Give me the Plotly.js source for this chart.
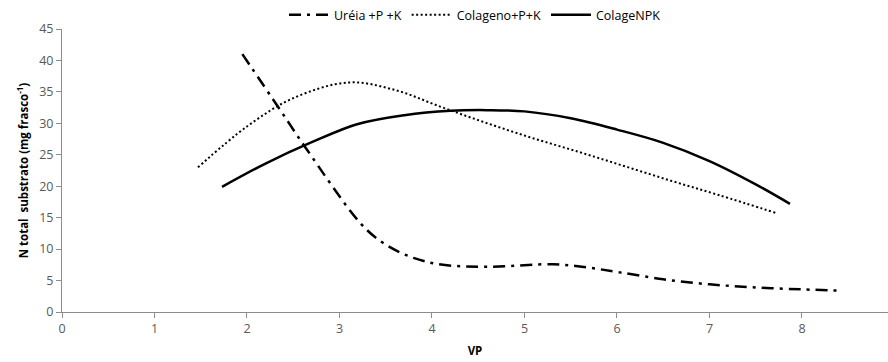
<!DOCTYPE html>
<html><head><meta charset="utf-8">
<script src="https://cdn.plot.ly/plotly-3.0.1.min.js"></script>
<style>html,body{margin:0;padding:0;background:#fff}#chart{width:888px;height:362px}</style>
</head><body><div id="chart"></div>
<script>
const seriesNames = ["Uréia +P +K", "Colageno+P+K", "ColageNPK"];
const ureiaX = [1.95, 2.36, 2.63, 3.24, 3.49, 3.8, 4.12, 4.63, 5.31, 5.67, 6.03, 6.5, 7.0, 7.5, 8.0, 8.41];
const ureiaY = [41, 32.1, 26.2, 13.9, 10.8, 8.6, 7.5, 7.2, 7.6, 7.1, 6.3, 5.2, 4.4, 3.9, 3.6, 3.4];
const colagenoX = [1.47, 2.0, 2.5, 3.1, 3.6, 4.1, 4.6, 5.1, 5.6, 6.1, 6.6, 7.1, 7.73];
const colagenoY = [23.0, 29.5, 34.0, 36.5, 35.3, 32.6, 30.0, 27.6, 25.4, 23.1, 20.8, 18.6, 15.7];
const npkX = [1.73, 2.2, 2.7, 3.2, 3.7, 4.2, 4.6, 5.0, 5.5, 6.0, 6.5, 7.0, 7.5, 7.87];
const npkY = [19.9, 23.6, 27.0, 29.9, 31.3, 32.0, 32.1, 31.9, 30.8, 29.0, 26.9, 24.0, 20.3, 17.2];
const xTicks = [0, 1, 2, 3, 4, 5, 6, 7, 8];
const yTicks = [0, 5, 10, 15, 20, 25, 30, 35, 40, 45];

const traces = [
  {x: ureiaX, y: ureiaY, name: seriesNames[0], mode: 'lines',
   line: {color: '#000', width: 2.5, dash: '12px,6px,3px,6px', shape: 'spline', smoothing: 1}},
  {x: colagenoX, y: colagenoY, name: seriesNames[1], mode: 'lines',
   line: {color: '#000', width: 2, dash: '2px,2.5px', shape: 'spline', smoothing: 1}},
  {x: npkX, y: npkY, name: seriesNames[2], mode: 'lines',
   line: {color: '#000', width: 2.5, dash: 'solid', shape: 'spline', smoothing: 1}}
];
const fam = 'Open Sans, Liberation Sans, sans-serif';
const axisFont = {family: fam, size: 12.5, color: '#595959'};
const layout = {
  width: 888, height: 362,
  margin: {l: 62, r: 0, t: 25, b: 50},
  paper_bgcolor: '#fff', plot_bgcolor: '#fff',
  showlegend: true,
  legend: {orientation: 'h', x: 0.5, xanchor: 'center', y: 1.05, yanchor: 'middle',
           font: {family: fam, size: 12.5, color: '#000'},
           itemwidth: 40, tracegroupgap: 0, bgcolor: 'rgba(0,0,0,0)'},
  xaxis: {range: [0, 8.93], tickvals: xTicks, ticktext: xTicks.map(String),
          showgrid: false, zeroline: false, showline: true, linecolor: '#8c8c8c', linewidth: 1,
          ticks: 'outside', ticklen: 5, tickcolor: '#8c8c8c', tickfont: axisFont,
          title: {text: 'VP', font: {family: fam, size: 11.5, color: '#000', weight: 'bold'}, standoff: 10}},
  yaxis: {range: [0, 45], tickvals: yTicks, ticktext: yTicks.map(String),
          showgrid: false, zeroline: false, showline: true, linecolor: '#8c8c8c', linewidth: 1,
          ticks: 'outside', ticklen: 5, tickcolor: '#8c8c8c', tickfont: axisFont,
          title: {text: 'N total  substrato (mg frasco<sup>-1</sup>)', font: {family: fam, size: 11.5, color: '#000', weight: 'bold'}, standoff: 8}}
};
Plotly.newPlot('chart', traces, layout, {displayModeBar: false, staticPlot: true});
</script></body></html>
